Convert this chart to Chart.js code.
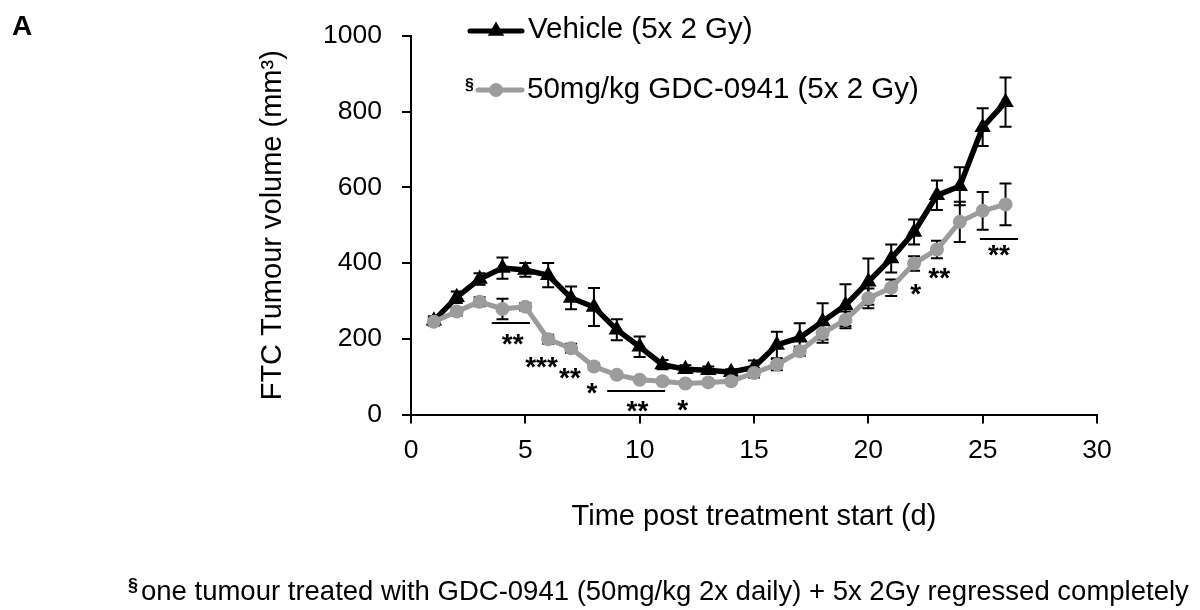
<!DOCTYPE html>
<html>
<head>
<meta charset="utf-8">
<script src="https://cdn.jsdelivr.net/npm/chart.js@4/dist/chart.umd.min.js"></script>
<style>
html,body{margin:0;padding:0;background:#ffffff;}
#c{display:block;}
</style>
</head>
<body>
<canvas id="c" width="1200" height="610"></canvas>
<script>
// ---------- data ----------
const days = [1,2,3,4,5,6,7,8,9,10,11,12,13,14,15,16,17,18,19,20,21,22,23,24,25,26];
const vehicleMean = [248,310,358,387,382,368,308,284,224,179,132,120,117,112,125,184,203,246,289,351,412,482,579,603,759,825];
const vehicleErr  = [12,15,15,28,18,32,30,50,28,27,12,10,10,8,18,35,38,48,55,61,37,33,39,50,50,65];
const gdcMean     = [245,272,298,279,285,199,175,127,105,92,88,82,85,88,110,132,167,215,250,307,335,399,436,509,538,555];
const gdcErr      = [10,10,12,27,10,12,12,8,6,6,6,6,6,6,12,15,12,25,22,26,22,19,23,53,50,55];
const seriesNames = ['Vehicle (5x 2 Gy)', '50mg/kg GDC-0941 (5x 2 Gy)'];
const xTicks = [0,5,10,15,20,25,30];
const yTicks = [0,200,400,600,800,1000];
// significance marks (data units: day, volume)
const sigText = ['**','***','**','*','**','*','*','**','**'];
const sigDay  = [4.45,5.71,6.95,7.91,9.9,11.88,22.07,23.1,25.71];
const sigVol  = [206,145,116,75,29,31,338,380,439];
const sigLineFrom = [3.53,8.58,24.88];
const sigLineTo   = [5.20,11.11,26.55];
const sigLineVol  = [241,61,463];
const footnote = 'one tumour treated with GDC-0941 (50mg/kg 2x daily) + 5x 2Gy regressed completely';

const FONT = '"Liberation Sans", Arial, Helvetica, sans-serif';
const BLACK = '#000000';
const GREY = '#9c9c9c';

const extras = {
  id: 'extras',
  beforeDatasetsDraw(chart){
    const ctx = chart.ctx, xs = chart.scales.x, ys = chart.scales.y;
    ctx.save();
    ctx.strokeStyle = BLACK; ctx.lineWidth = 2;
    const groups = [[vehicleMean, vehicleErr],[gdcMean, gdcErr]];
    groups.forEach(([m,e])=>{
      days.forEach((d,i)=>{
        const x = xs.getPixelForValue(d);
        const y1 = ys.getPixelForValue(m[i]+e[i]);
        const y2 = ys.getPixelForValue(m[i]-e[i]);
        ctx.beginPath();
        ctx.moveTo(x,y1); ctx.lineTo(x,y2);
        ctx.moveTo(x-6,y1); ctx.lineTo(x+6,y1);
        ctx.moveTo(x-6,y2); ctx.lineTo(x+6,y2);
        ctx.stroke();
      });
    });
    ctx.restore();
  },
  afterDraw(chart){
    const ctx = chart.ctx, xs = chart.scales.x, ys = chart.scales.y;
    ctx.save();
    ctx.fillStyle = BLACK; ctx.strokeStyle = BLACK;
    // significance lines
    ctx.lineWidth = 2;
    sigLineFrom.forEach((f,i)=>{
      const y = Math.round(ys.getPixelForValue(sigLineVol[i]));
      ctx.beginPath();
      ctx.moveTo(xs.getPixelForValue(f), y);
      ctx.lineTo(xs.getPixelForValue(sigLineTo[i]), y);
      ctx.stroke();
    });
    // asterisks
    ctx.font = 'bold 28px ' + FONT;
    ctx.textAlign = 'center'; ctx.textBaseline = 'alphabetic';
    sigText.forEach((t,i)=>{
      ctx.fillText(t, xs.getPixelForValue(sigDay[i]), ys.getPixelForValue(sigVol[i]) + 16);
    });
    // legend
    ctx.textAlign = 'left';
    ctx.lineWidth = 5; ctx.lineCap = 'round';
    ctx.strokeStyle = BLACK;
    ctx.beginPath(); ctx.moveTo(470,31); ctx.lineTo(522,31); ctx.stroke();
    ctx.fillStyle = BLACK;
    ctx.beginPath();
    ctx.moveTo(496,31-9.5); ctx.lineTo(496+8.2,31+4.75); ctx.lineTo(496-8.2,31+4.75); ctx.closePath(); ctx.fill();
    ctx.strokeStyle = GREY;
    ctx.beginPath(); ctx.moveTo(478,90); ctx.lineTo(522,90); ctx.stroke();
    ctx.fillStyle = GREY;
    ctx.beginPath(); ctx.arc(496,90,7,0,Math.PI*2); ctx.fill();
    ctx.fillStyle = BLACK;
    ctx.font = '29.5px ' + FONT;
    ctx.fillText(seriesNames[0], 528, 38);
    ctx.fillText(seriesNames[1], 527, 98);
    ctx.font = 'bold 16px ' + FONT;
    ctx.fillText('§', 465, 90);
    // footnote
    ctx.font = 'bold 18px ' + FONT;
    ctx.fillText('§', 128, 591);
    ctx.font = '27.5px ' + FONT;
    ctx.fillText(footnote, 141, 600);
    // panel letter
    ctx.font = 'bold 28px ' + FONT;
    ctx.fillText('A', 12, 35);
    ctx.restore();
  }
};

const ctx = document.getElementById('c').getContext('2d');
new Chart(ctx, {
  type: 'line',
  data: {
    datasets: [
      {
        label: seriesNames[0],
        data: days.map((d,i)=>({x:d, y:vehicleMean[i]})),
        borderColor: BLACK, backgroundColor: BLACK,
        borderWidth: 5.5, tension: 0,
        pointStyle: 'triangle', pointRadius: 9.5, pointBorderWidth: 0,
        pointBackgroundColor: BLACK, order: 1
      },
      {
        label: seriesNames[1],
        data: days.map((d,i)=>({x:d, y:gdcMean[i]})),
        borderColor: GREY, backgroundColor: GREY,
        borderWidth: 5, tension: 0,
        pointStyle: 'circle', pointRadius: 7, pointBorderWidth: 0,
        pointBackgroundColor: GREY, order: 0
      }
    ]
  },
  options: {
    responsive: false,
    animation: false,
    devicePixelRatio: 1,
    layout: { padding: { top: 35, right: 103, bottom: 76, left: 0 }, autoPadding: false },
    plugins: { legend: { display: false }, tooltip: { enabled: false } },
    scales: {
      x: {
        type: 'linear', min: 0, max: 30,
        afterBuildTicks(s){ s.ticks = xTicks.map(v=>({value:v})); },
        ticks: { color: BLACK, font: { family: FONT, size: 26.5 }, padding: 11, maxRotation: 0,
                 callback: v => String(v) },
        grid: { drawOnChartArea: false, drawTicks: true, tickLength: 9, color: BLACK, lineWidth: 2 },
        border: { display: true, color: BLACK, width: 2 },
        title: { display: true, text: 'Time post treatment start (d)', color: BLACK,
                 font: { family: FONT, size: 29 }, padding: { top: 0, bottom: 0 } },
        afterFit(s){ s.height = 119.4; }
      },
      y: {
        min: 0, max: 1000,
        afterBuildTicks(s){ s.ticks = yTicks.map(v=>({value:v})); },
        ticks: { color: BLACK, font: { family: FONT, size: 26.5 }, padding: 20,
                 callback: v => String(v) },
        grid: { drawOnChartArea: false, drawTicks: true, tickLength: 9, color: BLACK, lineWidth: 2 },
        border: { display: true, color: BLACK, width: 2 },
        title: { display: true, text: 'FTC Tumour volume (mm³)', color: BLACK,
                 font: { family: FONT, size: 29 }, padding: { top: 255.6, bottom: 0 } },
        afterFit(s){ s.width = 411; }
      }
    }
  },
  plugins: [extras]
});
</script>
</body>
</html>
